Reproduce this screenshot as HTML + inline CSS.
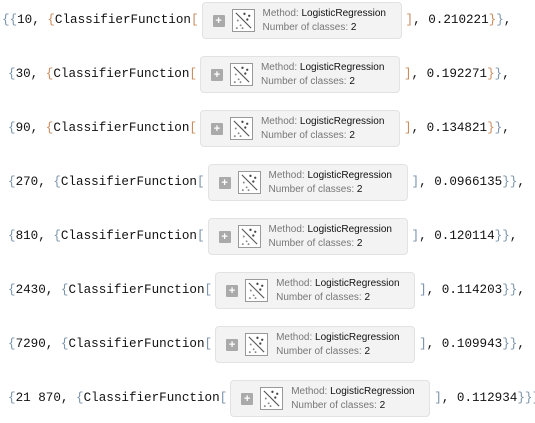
<!DOCTYPE html>
<html><head><style>
body{margin:0;width:535px;height:423px;background:#fff;position:relative;overflow:hidden}
.r{position:absolute;display:flex;align-items:center;font-family:"Liberation Mono",monospace;font-size:12.6px;color:#111;white-space:pre;height:40px}
.b{color:#7a93aa}.o{color:#c98c5e}
.box{width:200px;height:37px;background:#f3f3f3;border:1px solid #e2e2e2;border-radius:4px;margin:0 4px 0 3px;position:relative;box-sizing:border-box;flex:none}
.pl{position:absolute;left:10px;top:12px;width:12px;height:12px;background:#aaa;border-radius:1px;color:#fff;font:bold 11px/12px "Liberation Sans",sans-serif;text-align:center}
.ic{position:absolute;left:29px;top:6px;width:23px;height:23px;border:1px solid #999;background:#fff;box-sizing:border-box}
.tx{position:absolute;left:60px;top:4px;font:10px/14px "Liberation Sans",sans-serif;color:#777}
.tx b{font-weight:normal;color:#111}
</style></head><body>
<svg width="0" height="0" style="position:absolute"><defs><g id="s"><line x1="3" y1="3" x2="19" y2="19" stroke="#555" stroke-width="1.2"/><circle cx="12" cy="4" r="1.2" fill="#444"/><circle cx="17" cy="6" r="1.2" fill="#444"/><circle cx="15" cy="10" r="1.2" fill="#444"/><circle cx="5" cy="11" r="1" fill="#888"/><circle cx="8" cy="16" r="1" fill="#888"/><circle cx="4" cy="19" r="1" fill="#888"/><circle cx="10" cy="19" r="1" fill="#888"/></g></defs></svg>
<div class="r" style="left:2px;top:0"><span class="b">{</span><span class="b">{</span>10, <span class="o">{</span>ClassifierFunction<span class="o">[</span><div class="box"><div class="pl">+</div><svg class="ic" viewBox="0 0 22 22"><use href="#s"/></svg><div class="tx">Method: <b>LogisticRegression</b><br>Number of classes: <b>2</b></div></div><span class="o">]</span>, 0.210221<span class="o">}</span><span class="b">}</span>,</div>
<div class="r" style="left:8px;top:54px"><span class="b">{</span>30, <span class="o">{</span>ClassifierFunction<span class="o">[</span><div class="box"><div class="pl">+</div><svg class="ic" viewBox="0 0 22 22"><use href="#s"/></svg><div class="tx">Method: <b>LogisticRegression</b><br>Number of classes: <b>2</b></div></div><span class="o">]</span>, 0.192271<span class="o">}</span><span class="b">}</span>,</div>
<div class="r" style="left:8px;top:108px"><span class="b">{</span>90, <span class="o">{</span>ClassifierFunction<span class="o">[</span><div class="box"><div class="pl">+</div><svg class="ic" viewBox="0 0 22 22"><use href="#s"/></svg><div class="tx">Method: <b>LogisticRegression</b><br>Number of classes: <b>2</b></div></div><span class="o">]</span>, 0.134821<span class="o">}</span><span class="b">}</span>,</div>
<div class="r" style="left:8px;top:162px"><span class="b">{</span>270, <span class="b">{</span>ClassifierFunction<span class="b">[</span><div class="box"><div class="pl">+</div><svg class="ic" viewBox="0 0 22 22"><use href="#s"/></svg><div class="tx">Method: <b>LogisticRegression</b><br>Number of classes: <b>2</b></div></div><span class="b">]</span>, 0.0966135<span class="b">}</span><span class="b">}</span>,</div>
<div class="r" style="left:8px;top:216px"><span class="b">{</span>810, <span class="b">{</span>ClassifierFunction<span class="b">[</span><div class="box"><div class="pl">+</div><svg class="ic" viewBox="0 0 22 22"><use href="#s"/></svg><div class="tx">Method: <b>LogisticRegression</b><br>Number of classes: <b>2</b></div></div><span class="b">]</span>, 0.120114<span class="b">}</span><span class="b">}</span>,</div>
<div class="r" style="left:8px;top:270px"><span class="b">{</span>2430, <span class="b">{</span>ClassifierFunction<span class="b">[</span><div class="box"><div class="pl">+</div><svg class="ic" viewBox="0 0 22 22"><use href="#s"/></svg><div class="tx">Method: <b>LogisticRegression</b><br>Number of classes: <b>2</b></div></div><span class="b">]</span>, 0.114203<span class="b">}</span><span class="b">}</span>,</div>
<div class="r" style="left:8px;top:324px"><span class="b">{</span>7290, <span class="b">{</span>ClassifierFunction<span class="b">[</span><div class="box"><div class="pl">+</div><svg class="ic" viewBox="0 0 22 22"><use href="#s"/></svg><div class="tx">Method: <b>LogisticRegression</b><br>Number of classes: <b>2</b></div></div><span class="b">]</span>, 0.109943<span class="b">}</span><span class="b">}</span>,</div>
<div class="r" style="left:8px;top:378px"><span class="b">{</span>21 870, <span class="b">{</span>ClassifierFunction<span class="b">[</span><div class="box"><div class="pl">+</div><svg class="ic" viewBox="0 0 22 22"><use href="#s"/></svg><div class="tx">Method: <b>LogisticRegression</b><br>Number of classes: <b>2</b></div></div><span class="b">]</span>, 0.112934<span class="b">}</span><span class="b">}</span><span class="b">}</span></div>
</body></html>
